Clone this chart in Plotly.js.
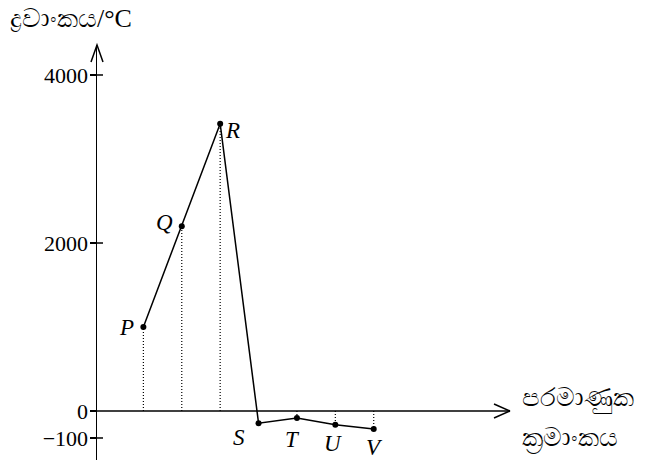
<!DOCTYPE html>
<html><head><meta charset="utf-8">
<script src="https://cdn.plot.ly/plotly-3.0.1.min.js"></script>
<style>html,body{margin:0;padding:0;background:#fff}#chart{width:646px;height:460px}</style>
</head><body><div id="chart"></div>
<script>
// Data
const elements = ['P','Q','R','S','T','U','V'];
const atomicIndex = [1,2,3,4,5,6,7];
const meltingPoint = [1000, 2200, 3420, -45, -26, -51, -67];
const yTickValues = [-100, 0, 2000, 4000];
const yTickLabels = ['\u2212100','0','2000','4000'];
const labelShiftX = [-17, -17, 12, -20, -4, -2, 1];
const labelShiftY = [0, 4, -7, -14, -21, -19, -18];
const dropLine = [true, true, true, false, true, true, true];
const yTitle = 'ද්‍රවාංකය/°C';
const xTitleLines = ['පරමාණුක', 'ක්‍රමාංකය'];

// the reference stretches the negative part of the axis
const NEG = 3.21;
const tf = v => v < 0 ? v * NEG : v;

const serif = "'Liberation Serif', serif";
const ys = meltingPoint.map(tf);

const dx = [], dy = [];
atomicIndex.forEach((x, i) => { if (dropLine[i]) { dx.push(x, x, null); dy.push(0, ys[i], null); } });

const traces = [
  {x: dx, y: dy, mode: 'lines', line: {color: '#000', width: 1.2, dash: '1px,2px'}, hoverinfo: 'skip'},
  {x: atomicIndex, y: ys, mode: 'lines+markers', line: {color: '#000', width: 1.5},
   marker: {color: '#000', size: 6}}
];

const annotations = elements.map((e, i) => ({
  x: atomicIndex[i], y: ys[i], xref: 'x', yref: 'y', text: e, showarrow: false,
  xshift: labelShiftX[i], yshift: labelShiftY[i],
  font: {family: serif, size: 23, color: '#000', style: 'italic'}
}));
annotations.push({
  xref: 'paper', yref: 'paper', x: 0, xshift: -89, y: 1, yshift: 27, xanchor: 'left', yanchor: 'middle',
  text: yTitle, showarrow: false, font: {family: serif, size: 26, color: '#000'}
});
xTitleLines.forEach((t, k) => annotations.push({
  xref: 'paper', yref: 'y', x: 1, xshift: 10, y: 0, yshift: 13 - k * 40, xanchor: 'left', yanchor: 'middle',
  text: t, showarrow: false, font: {family: serif, size: 26, color: '#000'}
}));

const PW = 413, PH = 415; // plot area size in px
const blk = {color: '#000', width: 1.5};
const shapes = [
  // x axis line with arrow head
  {type: 'line', xref: 'paper', yref: 'y', x0: 0, x1: 1, y0: 0, y1: 0, line: blk},
  {type: 'line', xref: 'paper', yref: 'y', xsizemode: 'pixel', xanchor: 1, ysizemode: 'pixel', yanchor: 0,
   x0: -16, x1: 0, y0: 7, y1: 0, line: blk},
  {type: 'line', xref: 'paper', yref: 'y', xsizemode: 'pixel', xanchor: 1, ysizemode: 'pixel', yanchor: 0,
   x0: -16, x1: 0, y0: -7, y1: 0, line: blk},
  // y axis arrow head
  {type: 'path', xref: 'paper', yref: 'paper',
   path: `M ${-6 / PW} ${1 - 17 / PH} L 0 1 L ${6 / PW} ${1 - 17 / PH}`, line: blk}
];
// inside halves of crossing ticks
yTickValues.forEach(v => {
  if (v !== 0) shapes.push({type: 'line', xref: 'paper', yref: 'y', xsizemode: 'pixel', xanchor: 0,
    x0: 0, x1: 6, y0: tf(v), y1: tf(v), line: blk});
});

const layout = {
  width: 646, height: 460,
  margin: {l: 97, r: 136, t: 45, b: 0},
  paper_bgcolor: '#fff', plot_bgcolor: '#fff',
  showlegend: false,
  xaxis: {range: [-0.208, 10.55], showgrid: false, zeroline: false, showline: false,
          showticklabels: false, ticks: ''},
  yaxis: {range: [-583, 4357], showgrid: false, zeroline: false, showline: true,
          linecolor: '#000', linewidth: 1.5,
          tickmode: 'array', tickvals: yTickValues.map(tf), ticktext: yTickLabels,
          ticks: 'outside', ticklen: 6, tickwidth: 1.5, tickcolor: '#000', ticklabelstandoff: -3,
          tickfont: {family: serif, size: 22, color: '#000'}},
  annotations: annotations,
  shapes: shapes
};

Plotly.newPlot('chart', traces, layout, {staticPlot: true, displayModeBar: false});
</script></body></html>
